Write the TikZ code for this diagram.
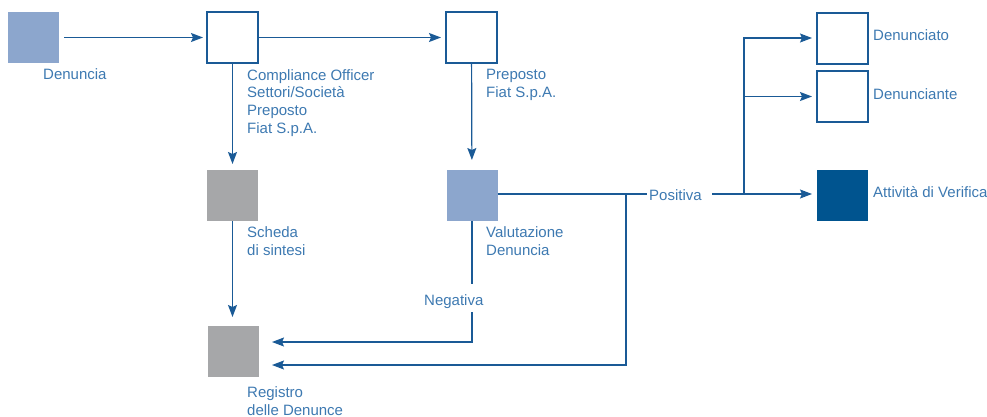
\documentclass[tikz,border=0pt]{standalone}
\usepackage{fontspec}
\setmainfont{Liberation Sans}
\usetikzlibrary{arrows.meta}
\definecolor{lineblue}{HTML}{1A5A96}
\definecolor{textblue}{HTML}{3D79B1}
\definecolor{paleblue}{HTML}{8CA6CD}
\definecolor{greybox}{HTML}{A6A7A9}
\definecolor{deepblue}{HTML}{00548F}
\tikzset{
  sq/.style={rectangle, minimum size=51pt, inner sep=0pt, outer sep=0pt},
  openbox/.style={sq, draw=lineblue, line width=1.3pt, fill=white},
  palebox/.style={sq, fill=paleblue},
  greysq/.style={sq, fill=greybox},
  deepbox/.style={sq, fill=deepblue},
  % anchored at the baseline of the last line
  lbl/.style={text=textblue, font=\fontsize{15}{18}\selectfont, align=left,
              anchor=base west, inner sep=0pt},
  conn/.style={draw=lineblue, line width=1.2pt},
  arr/.style={conn, -{Stealth[length=12pt,width=9pt,inset=2pt]}},
}
\begin{document}
\begin{tikzpicture}[x=1pt,y=-1pt]
  \useasboundingbox (0,0) rectangle (987,417);

  % boxes
  \node[palebox] (den) at (33.5,37.5) {};
  \node[openbox] (comp) at (232.5,37.5) {};
  \node[openbox] (prep) at (471.5,37.5) {};
  \node[greysq]  (sch) at (232.5,195.5) {};
  \node[palebox] (val) at (472,195.5) {};
  \node[greysq]  (reg) at (233.5,351.5) {};
  \node[openbox] (dto) at (842.5,38.5) {};
  \node[openbox] (dte) at (842.5,96.5) {};
  \node[deepbox] (att) at (842.5,195.5) {};

  % labels
  \node[lbl] (denL) at (43,80) {Denuncia};
  \node[lbl] (compL) at (247,134) {Compliance Officer\\Settori/Società\\Preposto\\Fiat S.p.A.};
  \node[lbl] (prepL) at (486,98) {Preposto\\Fiat S.p.A.};
  \node[lbl] (schL) at (247,255) {Scheda\\di sintesi};
  \node[lbl] (valL) at (486,255) {Valutazione\\Denuncia};
  \node[lbl] (regL) at (247,415) {Registro\\delle Denunce};
  \node[lbl] (neg) at (424,305) {Negativa};
  \node[lbl] (pos) at (649,200) {Positiva};
  \node[lbl] (dtoL) at (873,41) {Denunciato};
  \node[lbl] (dteL) at (873,100) {Denunciante};
  \node[lbl] (attL) at (873,197) {Attività di Verifica};

  % junction points
  \coordinate (negA) at (472,284);
  \coordinate (negB) at (472,312);
  \coordinate (regIn1) at (259,342);
  \coordinate (regIn2) at (259,365);
  \coordinate (posA) at (647,194);
  \coordinate (posB) at (712,194);
  \coordinate (loop) at (626,194);
  \coordinate (br) at (744,194);

  % connectors
  \draw[arr, shorten <=5pt, shorten >=4pt] (den) -- (comp);
  \draw[arr, shorten >=5pt] (comp) -- (prep);
  \draw[arr, shorten >=6pt] (comp) -- (sch);
  \draw[arr, shorten >=9pt] (sch.south) -- (sch.south |- reg.north);
  \draw[arr, shorten >=10pt] (prep) -- (val);
  \draw[conn] (val.south) -- (negA);
  \draw[arr, shorten >=13pt] (negB) |- (regIn1);
  \draw[conn] (val.east |- posA) -- (posA);
  \draw[arr, shorten >=13pt] (loop) |- (regIn2);
  \draw[arr, shorten >=5pt] (posB) -- (att.west |- posB);
  \draw[arr, shorten >=5pt] (br) |- (dto.west |- 0,38);
  \draw[arr, shorten >=5pt] (br |- dte.west) -- (dte.west);
\end{tikzpicture}
\end{document}
